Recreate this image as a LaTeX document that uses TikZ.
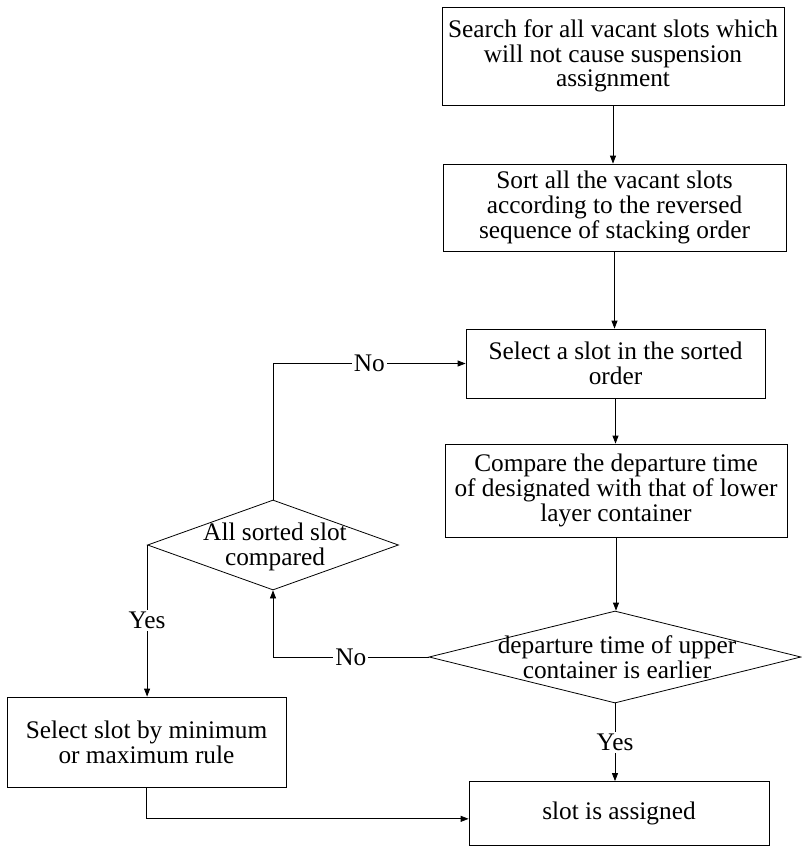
\documentclass[tikz,border=0pt]{standalone}
\usepackage{fontspec}
\setmainfont{Liberation Serif}
\usetikzlibrary{shapes.geometric,arrows.meta}
\begin{document}
\begin{tikzpicture}[x=0.75pt,y=-0.75pt,
  every node/.style={font=\fontsize{19}{18.5}\selectfont},
  box/.style={draw, line width=0.6pt, align=center, inner sep=0pt},
  dia/.style={draw, diamond, line width=0.6pt, inner sep=0pt},
  txt/.style={align=center, inner sep=0pt},
  lbl/.style={fill=white, inner sep=1.5pt},
  conn/.style={line width=0.6pt, -{Triangle[length=6pt,width=4.5pt]}},
  plain/.style={line width=0.6pt}
]
\useasboundingbox (0,0) rectangle (802,846);
\fill[white] (0,0) rectangle (802,846);

\node[box, minimum width=256.5pt, minimum height=73.5pt] (b1) at (613,56)
  {Search for all vacant slots which\\will not cause suspension\\assignment};
\node[box, minimum width=257.25pt, minimum height=65.25pt] (b2) at (614.5,207.5)
  {Sort all the vacant slots\\according to the reversed\\sequence of stacking order};
\node[box, minimum width=224.25pt, minimum height=51.75pt] (b3) at (615.5,363.5)
  {Select a slot in the sorted\\order};
\node[box, minimum width=256.5pt, minimum height=69.75pt] (b4) at (616,490.5)
  {Compare the departure time\\of designated with that of lower\\layer container};
\node[dia, minimum width=279pt, minimum height=69pt] (d1) at (615,657) {};
\node[txt] (d1t) at (617,657) {departure time of upper\\container is earlier};
\node[dia, minimum width=188.25pt, minimum height=67.5pt] (d2) at (273,545) {};
\node[txt] (d2t) at (275,547) {All sorted slot\\compared};
\node[box, minimum width=209.25pt, minimum height=67.5pt] (b5) at (146.5,742)
  {Select slot by minimum\\or maximum rule};
\node[box, minimum width=225pt, minimum height=48pt] (b6) at (619,813.5)
  {slot is assigned};

\draw[conn] (b1.south) -- (b1.south |- b2.north);
\draw[conn] (b2.south) -- (b2.south |- b3.north);
\draw[conn] (b3.south) -- (b3.south |- b4.north);
\draw[conn] (b4.south) -- (b4.south |- d1.north);
\draw[conn] (d1.south) -- node[lbl] (y1) {Yes} (d1.south |- b6.north);
\draw[conn] (d1.west) -| node[lbl, pos=0.25] (n1) {No} (d2.south);
\draw[conn] (d2.north) |- node[lbl, pos=0.75] (n2) {No} (b3.west);
\draw[conn] (d2.west) -- node[lbl] (y2) {Yes} (d2.west |- b5.north);
\draw[conn] (b5.south) |- ([yshift=-4pt]b6.west);
\end{tikzpicture}
\end{document}
